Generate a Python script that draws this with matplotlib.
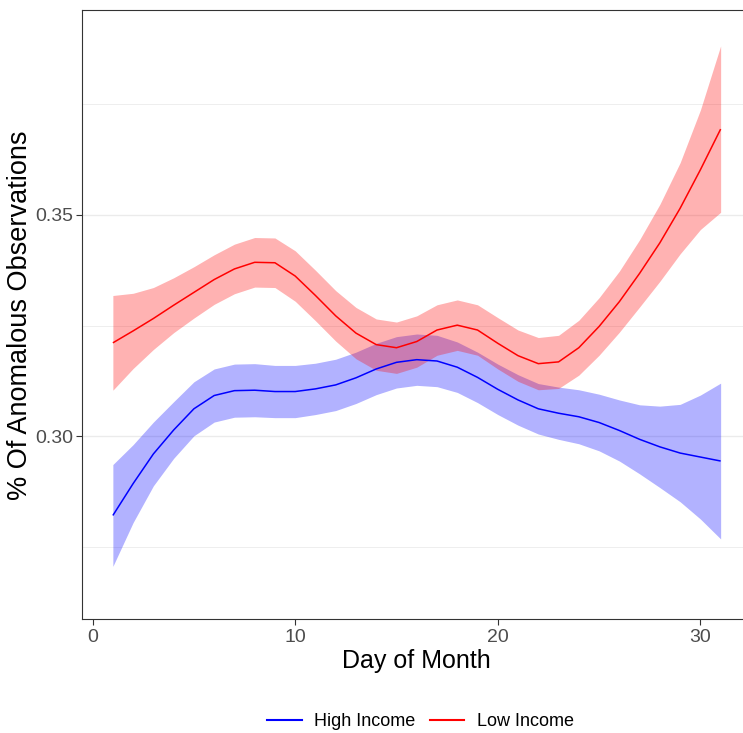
import numpy as np
import matplotlib
matplotlib.use("Agg")
import matplotlib.pyplot as plt
from matplotlib.lines import Line2D

plt.rcParams['font.family'] = ['Liberation Sans', 'DejaVu Sans']

days = list(range(1, 32))

high_fit = [0.2821, 0.2893, 0.2960, 0.3014, 0.3062, 0.3092, 0.3103, 0.3104,
            0.3101, 0.3101, 0.3107, 0.3116, 0.3132, 0.3152, 0.3167, 0.3173,
            0.3170, 0.3156, 0.3133, 0.3106, 0.3082, 0.3062, 0.3052, 0.3044,
            0.3031, 0.3013, 0.2993, 0.2976, 0.2962, 0.2953, 0.2944]
high_se = [0.0115, 0.0088, 0.0072, 0.0064, 0.0061, 0.0060, 0.0060, 0.0060,
           0.0059, 0.0059, 0.0058, 0.0058, 0.0058, 0.0058, 0.0058, 0.0058,
           0.0058, 0.0057, 0.0057, 0.0057, 0.0057, 0.0057, 0.0059, 0.0061,
           0.0064, 0.0069, 0.0078, 0.0092, 0.0110, 0.0140, 0.0176]

low_fit = [0.3211, 0.3238, 0.3266, 0.3296, 0.3325, 0.3354, 0.3378, 0.3393,
           0.3392, 0.3362, 0.3318, 0.3272, 0.3233, 0.3207, 0.3200, 0.3214,
           0.3240, 0.3251, 0.3240, 0.3210, 0.3182, 0.3164, 0.3168, 0.3200,
           0.3248, 0.3304, 0.3368, 0.3437, 0.3515, 0.3602, 0.3694]
low_se = [0.0107, 0.0085, 0.0070, 0.0062, 0.0058, 0.0056, 0.0056, 0.0056,
          0.0056, 0.0057, 0.0057, 0.0057, 0.0058, 0.0058, 0.0058, 0.0058,
          0.0057, 0.0057, 0.0057, 0.0058, 0.0058, 0.0059, 0.0060, 0.0062,
          0.0065, 0.0069, 0.0076, 0.0087, 0.0103, 0.0135, 0.0188]

x_ticks = [0, 10, 20, 30]
y_ticks = [0.30, 0.35]
y_minor = [0.275, 0.325, 0.375]

fig = plt.figure(figsize=(7.43, 7.33), dpi=100)
ax = fig.add_axes([0.111, 0.1555, 0.8998, 0.8302])

x = np.array(days)
series = [
    ("High Income", np.array(high_fit), np.array(high_se), "blue"),
    ("Low Income", np.array(low_fit), np.array(low_se), "red"),
]
for name, fit, se, col in series:
    ax.fill_between(x, fit - se, fit + se, color=col, alpha=0.3, linewidth=0, zorder=2)
for name, fit, se, col in series:
    ax.plot(x, fit, color=col, lw=1.1, zorder=3, solid_capstyle='butt',
            solid_joinstyle='round')

ax.set_xlim(-0.5, 32.5)
ax.set_ylim(0.2587, 0.3962)
ax.set_xticks(x_ticks)
ax.set_yticks(y_ticks)
ax.set_yticklabels([f"{v:.2f}" for v in y_ticks])
ax.set_yticks(y_minor, minor=True)
ax.tick_params(axis='y', which='minor', length=0)

for v in y_ticks:
    ax.axhline(v, color='#EBEBEB', lw=1.0, zorder=1)
for v in y_minor:
    ax.axhline(v, color='#EBEBEB', lw=0.6, zorder=1)

for s in ax.spines.values():
    s.set_color('#333333')
    s.set_linewidth(0.8)

ax.tick_params(axis='both', which='major', length=4, width=0.8, color='#333333',
               labelcolor='#4D4D4D', labelsize=14, pad=3)

ax.set_xlabel("Day of Month", fontsize=18, color='black', labelpad=2)
ax.set_ylabel("% Of Anomalous Observations", fontsize=19.5, color='black', labelpad=1)

handles = [Line2D([0], [0], color=c, lw=1.5) for _, _, _, c in series]
labels = [n for n, _, _, _ in series]
fig.legend(handles, labels, loc='center', bbox_to_anchor=(0.566, 1 - 721.7 / 733),
           ncol=2, frameon=False, fontsize=13, handlelength=1.9,
           handletextpad=0.7, columnspacing=0.8)

fig.savefig("out.png", dpi=100)
